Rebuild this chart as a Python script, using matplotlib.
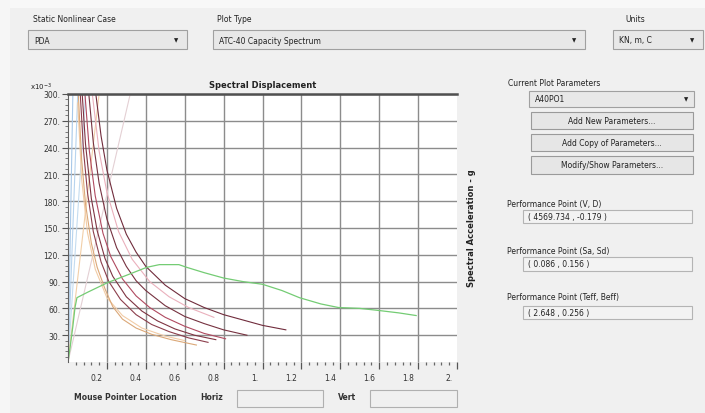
import numpy as np
from matplotlib import pyplot as plt
from matplotlib.patches import Rectangle
from matplotlib.transforms import ScaledTranslation

# ---- data (Sd in m, Sa in 1e-3 g) ----
cap_sd = [0, 0.01, 0.025, 0.036, 0.046, 0.10, 0.205, 0.30, 0.405, 0.47, 0.57, 0.61,
          0.70, 0.80, 0.90, 1.00, 1.10, 1.19, 1.30, 1.39, 1.50, 1.585, 1.70, 1.79]
cap_sa = [0, 15, 40, 61, 72, 78, 89, 97, 106, 109, 109, 106,
          100, 94, 90, 87, 80, 72, 65, 61, 60, 58, 55, 52]

d1_sd = [0.143, 0.17, 0.20, 0.25, 0.30, 0.35, 0.40, 0.50, 0.60, 0.70, 0.80, 0.90, 1.00, 1.12]
d1_sa = [300, 253, 215, 172, 143, 123, 107, 86, 71, 61, 53, 47, 41, 36]
d2_sd = [0.107, 0.13, 0.16, 0.20, 0.25, 0.30, 0.35, 0.40, 0.50, 0.60, 0.70, 0.80, 0.92]
d2_sa = [300, 246, 200, 160, 128, 107, 91, 80, 63, 51, 43, 36, 30]
d3_sd = [0.087, 0.11, 0.14, 0.18, 0.22, 0.28, 0.35, 0.42, 0.50, 0.60, 0.70, 0.81]
d3_sa = [300, 236, 186, 144, 118, 93, 74, 61, 50, 40, 32, 26]
d4_sd = [0.073, 0.09, 0.12, 0.15, 0.19, 0.23, 0.30, 0.38, 0.46, 0.55, 0.65, 0.76]
d4_sa = [300, 244, 183, 147, 116, 96, 73, 57, 46, 37, 30, 25]
d5_sd = [0.063, 0.08, 0.10, 0.13, 0.17, 0.21, 0.27, 0.35, 0.43, 0.52, 0.62, 0.72]
d5_sa = [300, 236, 190, 146, 112, 90, 70, 53, 42, 34, 27, 22]
d6_sd = [0.053, 0.07, 0.09, 0.12, 0.15, 0.19, 0.23, 0.28, 0.35, 0.43, 0.53, 0.66]
d6_sa = [300, 227, 177, 133, 106, 82, 62, 48, 38, 31, 25, 19]

# pale companion spectra
p1_sd = [0.125, 0.16, 0.20, 0.26, 0.33, 0.42, 0.52, 0.62, 0.75]
p1_sa = [300, 236, 190, 146, 115, 90, 73, 61, 50]
p2_sd = [0.05, 0.07, 0.10, 0.14, 0.20, 0.28, 0.38, 0.50, 0.60]
p2_sa = [290, 205, 145, 104, 72, 52, 38, 29, 24]

# constant period lines (origin -> top of plot)
per_top_sd = [0.025, 0.05, 0.09, 0.16, 0.32]
per_colors = ['#a8c8e8', '#b8d4ee', '#c4dcf0', '#f2cfa8', '#e4d0d4']

xtick_vals = [0.2, 0.4, 0.6, 0.8, 1.0, 1.2, 1.4, 1.6, 1.8, 2.0]
xtick_text = ['0.2', '0.4', '0.6', '0.8', '1.', '1.2', '1.4', '1.6', '1.8', '2.']
ytick_vals = [30, 60, 90, 120, 150, 180, 210, 240, 270, 300]
ytick_text = ['30.', '60.', '90.', '120.', '150.', '180.', '210.', '240.', '270.', '300.']

W, H = 705, 414
fig = plt.figure(figsize=(W/100, H/100), dpi=100)
fig.patch.set_facecolor('#f0f0f0')

def frect(x0, y0, x1, y1, fc, ec, lw=0.8):
    fig.add_artist(Rectangle((x0/W, 1 - y1/H), (x1 - x0)/W, (y1 - y0)/H,
                             transform=fig.transFigure, facecolor=fc,
                             edgecolor=ec, lw=lw))

def ftext(x, y, s, **kw):
    kw.setdefault('fontsize', 5.5)
    kw.setdefault('va', 'center')
    kw.setdefault('color', '#222222')
    fig.text(x/W, 1 - y/H, s, **kw)

# light strips at top / left
frect(0, 0, W, 9, '#f8f8f8', 'none', 0)
frect(0, 0, 10, H, '#f6f6f6', 'none', 0)

# ---- plot ----
ax = fig.add_axes([68/W, 1 - 363/H, (457 - 68)/W, (363 - 95)/H])
ax.set_facecolor('white')
ax.set_xlim(0, 2)
ax.set_ylim(0, 300)

for top, c in zip(per_top_sd, per_colors):
    ax.plot([0, top], [0, 300], color=c, lw=0.8)

ax.plot(p1_sd, p1_sa, color='#eab0bc', lw=0.8)
ax.plot(p2_sd, p2_sa, color='#f2cca6', lw=0.8)
ax.plot(d6_sd, d6_sa, color='#dba878', lw=0.8)
ax.plot(d5_sd, d5_sa, color='#8c3e4c', lw=0.8)
ax.plot(d4_sd, d4_sa, color='#7e3442', lw=0.8)
ax.plot(d3_sd, d3_sa, color='#b04a60', lw=0.8)
ax.plot(d2_sd, d2_sa, color='#763240', lw=0.8)
ax.plot(d1_sd, d1_sa, color='#702c3c', lw=0.8)
ax.plot(cap_sd, cap_sa, color='#74cc74', lw=0.9)

ax.set_xticks(xtick_vals)
ax.set_xticklabels(xtick_text)
ax.set_xticks(np.arange(0.04, 2.001, 0.04), minor=True)
ax.set_yticks(ytick_vals)
ax.set_yticklabels(ytick_text)
ax.set_yticks(np.arange(6, 300, 6), minor=True)
ax.grid(True, which='major', color='#8c8c8c', lw=1.0)
ax.xaxis.get_gridlines()[-1].set_visible(False)

for s in ['bottom', 'right']:
    ax.spines[s].set_visible(False)
ax.spines['top'].set_color('#505050')
ax.spines['top'].set_linewidth(1.8)
ax.spines['left'].set_color('#606060')
ax.spines['left'].set_linewidth(0.8)

ax.tick_params(axis='x', which='major', direction='out', length=5, width=0.9,
               color='#555555', pad=3, labelsize=5.5, labelcolor='#333333')
ax.tick_params(axis='x', which='minor', direction='out', length=2.5, width=0.9,
               color='#666666')
ax.tick_params(axis='y', which='major', direction='out', length=4, width=0.8,
               color='#555555', pad=1.5, labelsize=5.5, labelcolor='#333333')
ax.tick_params(axis='y', which='minor', direction='out', length=2.5, width=0.6,
               color='#666666')
shift = ScaledTranslation(-3/72, 0, fig.dpi_scale_trans)
for lab in ax.get_xticklabels():
    lab.set_horizontalalignment('right')
    lab.set_transform(lab.get_transform() + shift)

ftext(263, 85, 'Spectral Displacement', ha='center', fontsize=6, fontweight='bold')
ftext(472, 228, 'Spectral Acceleration - g', ha='center', rotation=90,
      fontsize=6, fontweight='bold')
ftext(30, 87, r'x10$^{-3}$', fontsize=5)

# ---- top combo boxes ----
ftext(33, 19, 'Static Nonlinear Case')
ftext(217, 19, 'Plot Type')
ftext(625, 19, 'Units')
for x0, x1, label in [(28, 187, 'PDA'), (213, 585, 'ATC-40 Capacity Spectrum'),
                      (613, 703, 'KN, m, C')]:
    frect(x0, 31, x1, 50, '#e8e8e8', '#a0a0a0')
    ftext(x0 + 6, 41, label)
    ftext(x1 - 11, 41, '\u25bc', fontsize=4, ha='center')

# ---- right panel ----
ftext(508, 83, 'Current Plot Parameters')
frect(529, 92, 694, 108, '#e8e8e8', '#a0a0a0')
ftext(535, 100, 'A40PO1')
ftext(686, 100, '\u25bc', fontsize=4, ha='center')
for y0, y1, label in [(113, 130, 'Add New Parameters...'),
                      (135, 152, 'Add Copy of Parameters...'),
                      (157, 175, 'Modify/Show Parameters...')]:
    frect(531, y0, 693, y1, '#e6e6e6', '#9a9a9a')
    ftext(612, (y0 + y1)/2, label, ha='center')

for ly, y0, y1, label, val in [(205, 211, 224, 'Performance Point (V, D)', '( 4569.734 , -0.179 )'),
                               (252, 258, 272, 'Performance Point (Sa, Sd)', '( 0.086 , 0.156 )'),
                               (298, 307, 320, 'Performance Point (Teff, Beff)', '( 2.648 , 0.256 )')]:
    ftext(507, ly, label)
    frect(523, y0, 692, y1, '#f3f3f3', '#b4b4b4')
    ftext(528, (y0 + y1)/2, val)

# ---- bottom status row ----
ftext(74, 398, 'Mouse Pointer Location', fontweight='bold', color='#333333')
ftext(200, 398, 'Horiz', fontweight='bold', color='#333333')
frect(237, 391, 323, 408, '#f0f0f0', '#b0b0b0')
ftext(338, 398, 'Vert', fontweight='bold', color='#333333')
frect(370, 391, 457, 408, '#f0f0f0', '#b0b0b0')

fig.savefig('out.png', dpi=100, facecolor=fig.get_facecolor())
